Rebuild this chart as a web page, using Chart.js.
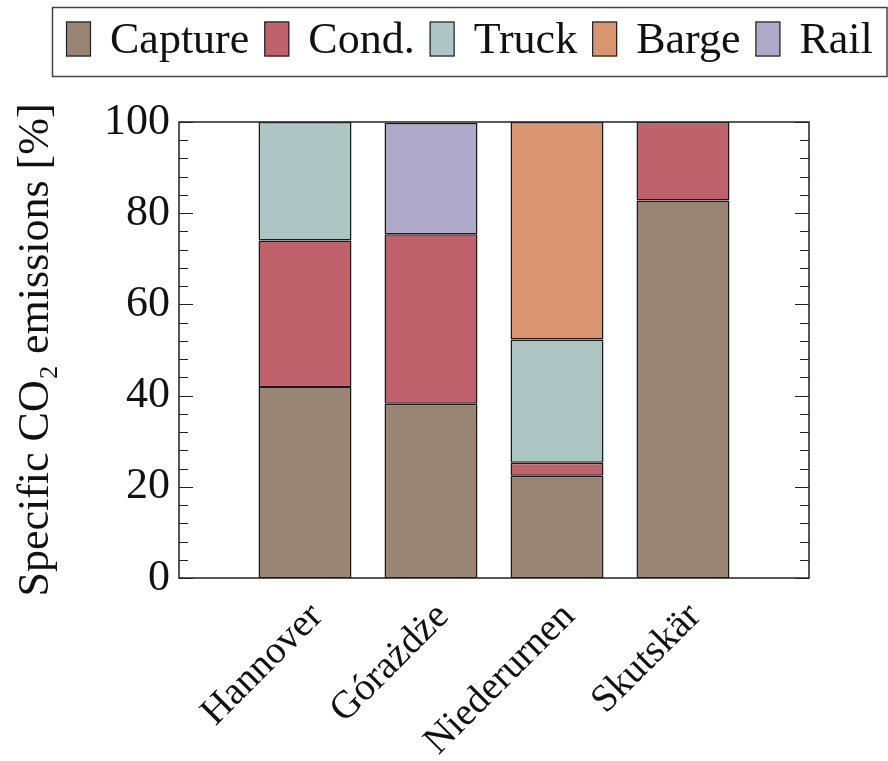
<!DOCTYPE html>
<html>
<head>
<meta charset="utf-8">
<script src="https://cdn.jsdelivr.net/npm/chart.js@4/dist/chart.umd.min.js"></script>
<style>
  html, body { margin: 0; padding: 0; background: #fff; }
  #wrap { width: 888px; height: 761px; }
</style>
</head>
<body>
<div id="wrap"><canvas id="c" width="888" height="761"></canvas></div>
<script>
// Sites and emission shares (percent of each site's specific CO2 emissions)
const sites = ['Hannover', 'Górażdże', 'Niederurnen', 'Skutskär'];
const capture = [41.9, 38.2, 22.4, 82.8];
const cond    = [32.1, 37.2, 2.9, 17.2];
const truck   = [26.0, null, 27.0, null];
const barge   = [null, null, 47.7, null];
const rail    = [null, 24.4, null, null];

const seriesNames = ['Capture', 'Cond.', 'Truck', 'Barge', 'Rail'];
const seriesColors = ['#9A8574', '#C0626B', '#ADC5C3', '#D99572', '#B0AACA'];

const yTicks = [0, 20, 40, 60, 80, 100];
const yMinorStep = 4;

const FONT = "Liberation Serif";

// one empty slot on each side of the four sites
const pad = arr => [null, ...arr, null];
const labels = ['', ...sites, ''];

const seriesData = [capture, cond, truck, barge, rail];
const datasets = seriesNames.map((name, i) => ({
  label: name,
  data: pad(seriesData[i]),
  backgroundColor: seriesColors[i],
  borderColor: '#1a1a1a',
  borderWidth: 1.5,
  borderSkipped: false,
  barPercentage: 0.738,
  categoryPercentage: 1.0
}));

// Framed legend row above the plot
const legendPlugin = {
  id: 'framedLegend',
  afterDraw(chart) {
    const ctx = chart.ctx;
    ctx.save();
    ctx.font = `44px ${FONT}`;
    ctx.textBaseline = 'middle';
    ctx.textAlign = 'left';
    const frame = { left: 52.5, top: 7.5, right: 887, bottom: 76.5 };
    ctx.strokeStyle = '#444';
    ctx.lineWidth = 1.5;
    ctx.strokeRect(frame.left, frame.top, frame.right - frame.left, frame.bottom - frame.top);
    const boxW = 25, boxH = 35, gap = 19, itemGap = 15;
    const midY = (frame.top + frame.bottom) / 2 - 3;
    let x = 66;
    chart.data.datasets.forEach(ds => {
      ctx.fillStyle = ds.backgroundColor;
      ctx.fillRect(x, midY - boxH / 2, boxW, boxH);
      ctx.strokeStyle = '#222';
      ctx.lineWidth = 1.2;
      ctx.strokeRect(x + 0.5, midY - boxH / 2 + 0.5, boxW - 1, boxH - 1);
      x += boxW + gap;
      ctx.fillStyle = '#111';
      ctx.fillText(ds.label, x, midY + 2);
      x += ctx.measureText(ds.label).width + itemGap;
    });
    ctx.restore();
  }
};

// Axis frame with inward major and minor ticks on both sides
const framePlugin = {
  id: 'axisFrame',
  afterDatasetsDraw(chart) {
    const { ctx, chartArea: a } = chart;
    const ys = chart.scales.y;
    ctx.save();
    ctx.strokeStyle = '#222';
    ctx.lineWidth = 1.2;
    for (let v = ys.min; v <= ys.max; v += yMinorStep) {
      const py = Math.round(ys.getPixelForValue(v)) + 0.5;
      const len = yTicks.includes(v) ? 14 : 9;
      ctx.beginPath();
      ctx.moveTo(a.left, py); ctx.lineTo(a.left + len, py);
      ctx.moveTo(a.right, py); ctx.lineTo(a.right - len, py);
      ctx.stroke();
    }
    ctx.lineWidth = 1.5;
    ctx.strokeRect(a.left, a.top, a.right - a.left, a.bottom - a.top);
    ctx.restore();
  }
};

new Chart(document.getElementById('c'), {
  type: 'bar',
  data: { labels, datasets },
  options: {
    responsive: false,
    animation: false,
    layout: { padding: { top: 122, right: 79, bottom: 0, left: 0 } },
    plugins: {
      legend: { display: false },
      tooltip: { enabled: false }
    },
    scales: {
      x: {
        stacked: true,
        offset: false,
        grid: { display: false, drawTicks: false },
        border: { display: false },
        ticks: {
          autoSkip: false,
          maxRotation: 45,
          minRotation: 45,
          padding: 16,
          labelOffset: 12,
          color: '#111',
          font: { family: FONT, size: 39 }
        },
        afterFit(scale) { scale.height = 183; }
      },
      y: {
        stacked: true,
        min: 0,
        max: 100,
        grid: { display: false, drawTicks: false },
        border: { display: false },
        afterBuildTicks(scale) { scale.ticks = yTicks.map(v => ({ value: v })); },
        ticks: {
          padding: 9,
          color: '#111',
          font: { family: FONT, size: 44 }
        },
        title: {
          display: true,
          text: 'Specific CO₂ emissions [%]',
          color: '#111',
          font: { family: FONT, size: 44 },
          padding: { top: 10, bottom: 0 }
        },
        afterFit(scale) { scale.width = 179; }
      }
    }
  },
  plugins: [legendPlugin, framePlugin]
});
</script>
</body>
</html>
